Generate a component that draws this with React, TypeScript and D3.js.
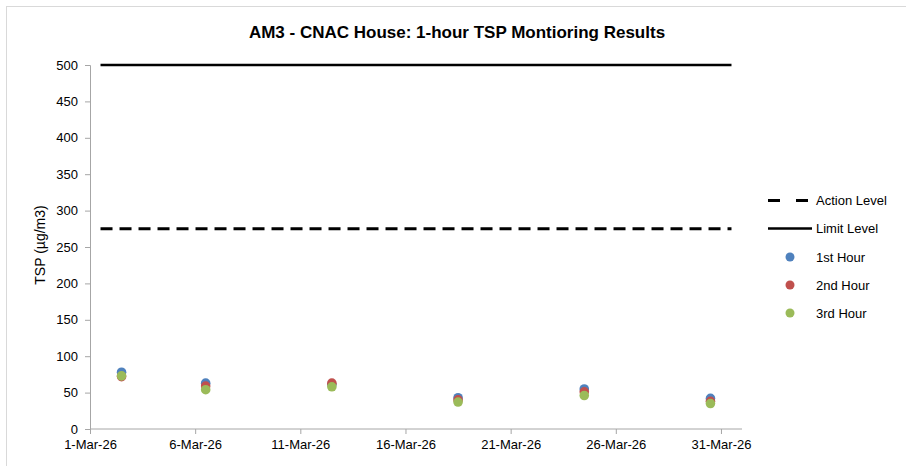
import React, { useEffect, useRef } from 'react';
import * as d3 from 'd3';

// sampling dates (day of March 2026)
const sampleDays = [2, 6, 12, 18, 24, 30];
const hour1 = [78, 63, 61, 43, 55, 42];
const hour2 = [72, 59, 63, 40, 51, 38];
const hour3 = [73, 54, 58, 37, 46, 35];

const actionLevel = 275;
const limitLevel = 500;
const levelDays = [1, 31];

const yTicks = [0, 50, 100, 150, 200, 250, 300, 350, 400, 450, 500];
const xTickDays = [1, 6, 11, 16, 21, 26, 31];

const series = [
  { name: '1st Hour', values: hour1, color: '#4F81BD' },
  { name: '2nd Hour', values: hour2, color: '#C0504D' },
  { name: '3rd Hour', values: hour3, color: '#9BBB59' },
];

const W = 906;
const H = 466;
const FONT = '"Liberation Sans", Arial, sans-serif';

const day = (d: number, h = 0) => new Date(2026, 2, d, h);

export default function App() {
  const svgRef = useRef<SVGSVGElement>(null);

  useEffect(() => {
    if (!svgRef.current) return;
    const svg = d3.select(svgRef.current);
    svg.selectAll('*').remove();

    const margin = { top: 65, left: 90, right: 164, bottom: 37 };
    const x = d3.scaleTime().domain([day(1), day(32)]).range([margin.left, W - margin.right]);
    const y = d3.scaleLinear().domain([0, 500]).range([H - margin.bottom, margin.top]);

    // chart border
    svg.append('rect')
      .attr('x', 6.5).attr('y', 6.5)
      .attr('width', W + 20).attr('height', H + 20)
      .attr('fill', '#fff')
      .attr('stroke', '#d9d9d9');

    svg.append('text')
      .attr('x', 457).attr('y', 38)
      .attr('text-anchor', 'middle')
      .attr('font-family', FONT)
      .attr('font-size', 17)
      .attr('font-weight', 'bold')
      .text('AM3 - CNAC House: 1-hour TSP Montioring Results');

    // y axis
    const yAxis = svg.append('g')
      .attr('transform', `translate(${margin.left},0)`)
      .call(d3.axisLeft(y).tickValues(yTicks).tickSize(5).tickPadding(7));
    yAxis.select('.domain').attr('stroke', '#a6a6a6');
    yAxis.selectAll('line').attr('stroke', '#a6a6a6');
    yAxis.selectAll('text').attr('font-family', FONT).attr('font-size', 13).attr('fill', '#000');

    // x axis
    const xAxis = svg.append('g')
      .attr('transform', `translate(0,${y(0)})`)
      .call(d3.axisBottom(x)
        .tickValues(xTickDays.map(d => day(d)))
        .tickSize(5)
        .tickPadding(6)
        .tickFormat(d => d3.timeFormat('%-d-%b-%y')(d as Date)));
    xAxis.select('.domain').attr('stroke', '#a6a6a6').attr('d', `M${margin.left},0H${W - margin.right}`);
    xAxis.selectAll('line').attr('stroke', '#a6a6a6');
    xAxis.selectAll('text').attr('font-family', FONT).attr('font-size', 13).attr('fill', '#000');

    svg.append('text')
      .attr('transform', `translate(45,245) rotate(-90)`)
      .attr('text-anchor', 'middle')
      .attr('font-family', FONT)
      .attr('font-size', 14)
      .text('TSP (µg/m3)');

    // level lines
    const line = d3.line<number>().x((d, i) => x(day(levelDays[i], 12))).y(d => y(d));
    svg.append('path')
      .attr('d', line([actionLevel, actionLevel]))
      .attr('stroke', '#000').attr('stroke-width', 3).attr('stroke-dasharray', '12,7')
      .attr('fill', 'none');
    svg.append('path')
      .attr('d', line([limitLevel, limitLevel]))
      .attr('stroke', '#000').attr('stroke-width', 2.5)
      .attr('fill', 'none');

    // markers
    series.forEach(s => {
      svg.append('g').selectAll('circle')
        .data(s.values)
        .enter()
        .append('circle')
        .attr('cx', (d, i) => x(day(sampleDays[i], 12)))
        .attr('cy', d => y(d))
        .attr('r', 4.8)
        .attr('fill', s.color);
    });

    // legend
    const lg = svg.append('g').attr('font-family', FONT).attr('font-size', 13);
    lg.append('line')
      .attr('x1', 768).attr('x2', 808).attr('y1', 200.5).attr('y2', 200.5)
      .attr('stroke', '#000').attr('stroke-width', 3).attr('stroke-dasharray', '12,16');
    lg.append('text').attr('x', 816).attr('y', 205).text('Action Level');
    lg.append('line')
      .attr('x1', 768).attr('x2', 812).attr('y1', 228.5).attr('y2', 228.5)
      .attr('stroke', '#000').attr('stroke-width', 2.5);
    lg.append('text').attr('x', 816).attr('y', 233).text('Limit Level');
    series.forEach((s, i) => {
      const cy = 257 + i * 28;
      lg.append('circle').attr('cx', 790).attr('cy', cy).attr('r', 4.5).attr('fill', s.color);
      lg.append('text').attr('x', 816).attr('y', cy + 5).text(s.name);
    });
  }, []);

  return (
    <svg
      ref={svgRef}
      width={W}
      height={H}
      style={{ position: 'absolute', left: 0, top: 0, background: '#fff' }}
    />
  );
}
